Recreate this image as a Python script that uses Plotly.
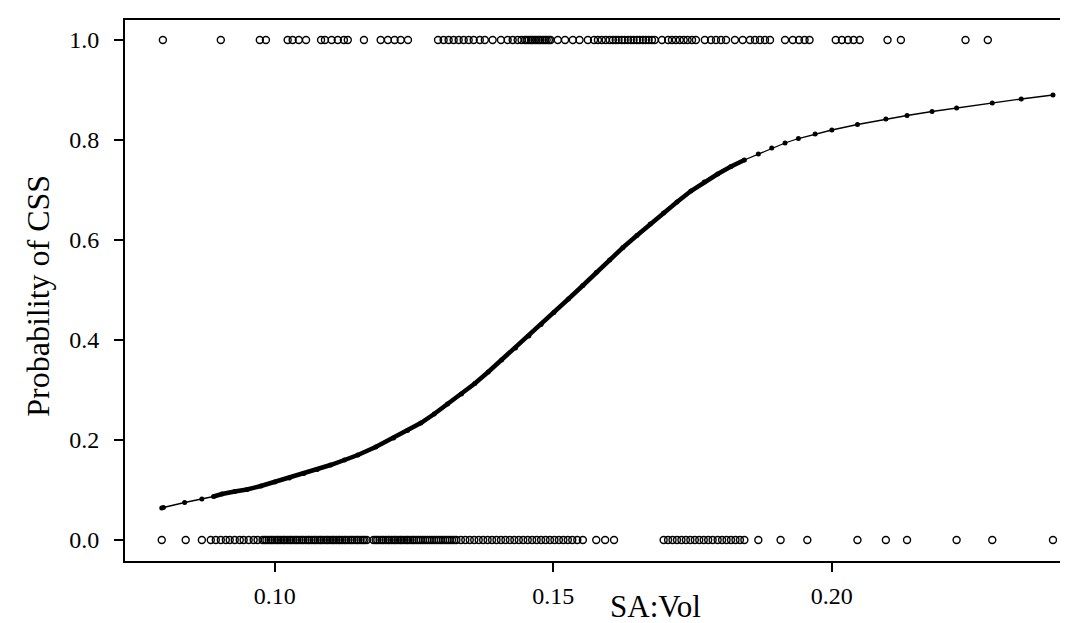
import plotly.graph_objects as go

x_css1 = [0.0799, 0.0903, 0.0973, 0.0984, 0.1023, 0.1032, 0.1043, 0.1056, 0.1083, 0.1090,
          0.1102, 0.1113, 0.1124, 0.1131, 0.1160, 0.1190, 0.1203, 0.1215, 0.1226, 0.1239,
          0.1293, 0.1303, 0.1312, 0.1321, 0.1330, 0.1339, 0.1348, 0.1357, 0.1368, 0.1377,
          0.1391, 0.1406, 0.1418, 0.1427, 0.1436, 0.1443, 0.1449, 0.1452, 0.1456, 0.1460,
          0.1463, 0.1467, 0.1470, 0.1474, 0.1477, 0.1481, 0.1485, 0.1488, 0.1492, 0.1495,
          0.1508, 0.1521, 0.1535, 0.1547, 0.1562, 0.1573, 0.1580, 0.1587, 0.1594, 0.1601,
          0.1607, 0.1612, 0.1617, 0.1623, 0.1628, 0.1634, 0.1639, 0.1644, 0.1650, 0.1655,
          0.1661, 0.1666, 0.1671, 0.1677, 0.1682, 0.1695, 0.1706, 0.1713, 0.1720, 0.1727,
          0.1734, 0.1741, 0.1749, 0.1756, 0.1772, 0.1783, 0.1792, 0.1801, 0.1810, 0.1826,
          0.1840, 0.1853, 0.1862, 0.1871, 0.1880, 0.1889, 0.1916, 0.1930, 0.1941, 0.1951,
          0.1960, 0.2007, 0.2018, 0.2029, 0.2039, 0.2050, 0.2100, 0.2124, 0.2240, 0.2280]

x_css0 = [0.0797, 0.0840, 0.0869,
          0.0885, 0.0894, 0.0903, 0.0912, 0.0919, 0.0928, 0.0937, 0.0944, 0.0953, 0.0962,
          0.0969, 0.0978, 0.0982, 0.0985, 0.0989, 0.0993, 0.0996, 0.1000, 0.1004, 0.1007,
          0.1011, 0.1015, 0.1018, 0.1022, 0.1026, 0.1029, 0.1033, 0.1037, 0.1040, 0.1044,
          0.1048, 0.1051, 0.1055, 0.1059, 0.1062, 0.1066, 0.1070, 0.1073, 0.1077, 0.1081,
          0.1084, 0.1088, 0.1092, 0.1095, 0.1099, 0.1103, 0.1106, 0.1110, 0.1114, 0.1117,
          0.1121, 0.1125, 0.1128, 0.1132, 0.1136, 0.1139, 0.1143, 0.1147, 0.1150, 0.1154,
          0.1158, 0.1161, 0.1165, 0.1177, 0.1181, 0.1184, 0.1188, 0.1192, 0.1195, 0.1199,
          0.1203, 0.1206, 0.1210, 0.1214, 0.1217, 0.1221, 0.1225, 0.1228, 0.1232, 0.1236,
          0.1239, 0.1243, 0.1247, 0.1250, 0.1254, 0.1258, 0.1262, 0.1266, 0.1270, 0.1274,
          0.1278, 0.1282, 0.1286, 0.1290, 0.1294, 0.1298, 0.1302, 0.1306, 0.1310, 0.1314,
          0.1318, 0.1322, 0.1326,
          0.1334, 0.1342, 0.1350, 0.1358, 0.1366, 0.1374, 0.1382, 0.1390, 0.1398, 0.1406,
          0.1414, 0.1422, 0.1430, 0.1438, 0.1446, 0.1454, 0.1462, 0.1470, 0.1478, 0.1486,
          0.1494, 0.1502, 0.1510, 0.1518, 0.1526, 0.1534, 0.1543, 0.1553,
          0.1577, 0.1593, 0.1609,
          0.1698, 0.1706, 0.1714, 0.1722, 0.1730, 0.1738, 0.1746, 0.1754, 0.1762, 0.1770,
          0.1778, 0.1786, 0.1795, 0.1803, 0.1811, 0.1819, 0.1827, 0.1835, 0.1843,
          0.1868, 0.1908, 0.1956, 0.2046, 0.2097, 0.2135, 0.2224, 0.2288, 0.2397]

# fitted probability curve
curve_x = [0.0797, 0.0800, 0.0838, 0.0869, 0.0890, 0.0905, 0.0928, 0.0950, 0.0975, 0.1000,
           0.1026, 0.1052, 0.1076, 0.1100, 0.1125, 0.1149, 0.1181, 0.1213, 0.1238, 0.1262,
           0.1286, 0.1310, 0.1335, 0.1359, 0.1383, 0.1407, 0.1432, 0.1456, 0.1478, 0.1501,
           0.1527, 0.1553, 0.1577, 0.1601, 0.1625, 0.1650, 0.1674, 0.1698, 0.1722, 0.1747,
           0.1771, 0.1795, 0.1819, 0.1843, 0.1868, 0.1892, 0.1916, 0.1940, 0.1970, 0.2000,
           0.2046, 0.2097, 0.2135, 0.2180, 0.2224, 0.2288, 0.2340, 0.2397]
curve_p = [0.064, 0.065, 0.075, 0.082, 0.087, 0.092, 0.097, 0.101, 0.108, 0.116,
           0.124, 0.133, 0.141, 0.150, 0.160, 0.170, 0.186, 0.204, 0.219, 0.234,
           0.252, 0.272, 0.292, 0.313, 0.336, 0.360, 0.384, 0.408, 0.431, 0.455,
           0.482, 0.509, 0.535, 0.560, 0.585, 0.609, 0.632, 0.654, 0.676, 0.698,
           0.716, 0.732, 0.747, 0.760, 0.772, 0.784, 0.794, 0.803, 0.812, 0.820,
           0.831, 0.842, 0.849, 0.857, 0.864, 0.874, 0.882, 0.890]

dense_lo, dense_hi = 0.088, 0.186

x_ticks = [0.10, 0.15, 0.20]
x_tick_text = ["0.10", "0.15", "0.20"]
y_ticks = [0.0, 0.2, 0.4, 0.6, 0.8, 1.0]
y_tick_text = ["0.0", "0.2", "0.4", "0.6", "0.8", "1.0"]

FONT = "Liberation Serif, Times New Roman, serif"

fig = go.Figure()

fig.add_trace(go.Scatter(x=curve_x, y=curve_p, mode="lines",
                         line=dict(color="black", width=1.3), hoverinfo="skip",
                         showlegend=False))
dense_x = [x for x in curve_x if dense_lo <= x <= dense_hi]
dense_p = [p for x, p in zip(curve_x, curve_p) if dense_lo <= x <= dense_hi]
fig.add_trace(go.Scatter(x=dense_x, y=dense_p, mode="lines",
                         line=dict(color="black", width=4.5), hoverinfo="skip",
                         showlegend=False))
fig.add_trace(go.Scatter(x=curve_x, y=curve_p, mode="markers",
                         marker=dict(symbol="circle", size=5, color="black"),
                         showlegend=False))

open_marker = dict(symbol="circle-open", size=7, color="black",
                   line=dict(width=1.4, color="black"))
fig.add_trace(go.Scatter(x=x_css1, y=[1.0] * len(x_css1), mode="markers",
                         marker=open_marker, showlegend=False))
fig.add_trace(go.Scatter(x=x_css0, y=[0.0] * len(x_css0), mode="markers",
                         marker=open_marker, showlegend=False))

axis_common = dict(ticks="outside", ticklen=9, tickwidth=2, tickcolor="black",
                   showline=True, linecolor="black", linewidth=2, mirror=True,
                   showgrid=False, zeroline=False, tickfont=dict(size=24))

fig.update_layout(
    width=1068, height=623,
    margin=dict(l=117, r=13, t=10, b=70),
    paper_bgcolor="white", plot_bgcolor="white",
    font=dict(family=FONT, color="black", size=24),
    xaxis=dict(range=[0.0731, 0.2415], tickvals=x_ticks, ticktext=x_tick_text,
               ticklabelstandoff=3, **axis_common),
    yaxis=dict(range=[-0.042, 1.04], tickvals=y_ticks, ticktext=y_tick_text,
               ticklabelstandoff=10, **axis_common),
    annotations=[
        dict(text="SA:Vol", xref="paper", yref="paper", x=0.566, y=-0.085,
             xanchor="center", yanchor="middle", showarrow=False,
             font=dict(size=31, family=FONT, color="black")),
        dict(text="Probability of CSS", xref="paper", yref="paper", x=-0.093, y=0.49,
             xanchor="center", yanchor="middle", textangle=-90, showarrow=False,
             font=dict(size=32, family=FONT, color="black")),
    ],
)

fig.write_html("out.html")
